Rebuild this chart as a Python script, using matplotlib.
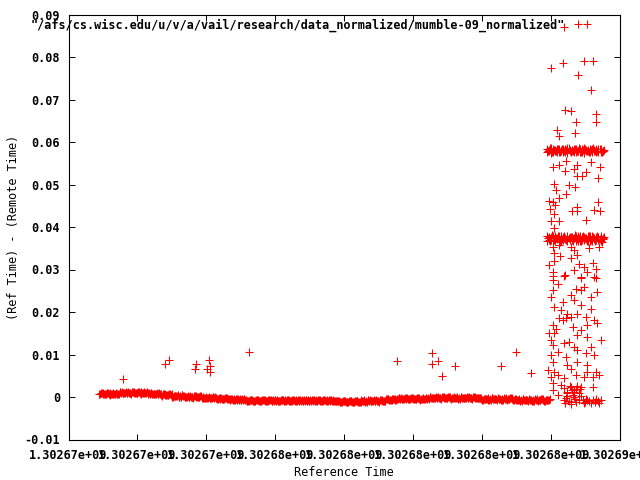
import numpy as np
import matplotlib
matplotlib.use('Agg')
import matplotlib.pyplot as plt
from matplotlib.ticker import FuncFormatter, MultipleLocator

T0 = 1302670000  # left end of the time axis (s)
T_SPAN = 16000
title = '"/afs/cs.wisc.edu/u/v/a/vail/research/data_normalized/mumble-09_normalized"'

# steady part before the burst: time offset from T0 (s), delay (units of 1e-4 s)
base_t = [900, 990, 1080, 1170, 1260, 1350, 1440, 1530, 1620, 1710,
          1800, 1890, 1980, 2070, 2160, 2250, 2340, 2430, 2520, 2610,
          2700, 2790, 2880, 2970, 3060, 3150, 3240, 3330, 3420, 3510,
          3600, 3690, 3780, 3870, 3960, 4050, 4140, 4230, 4320, 4410,
          4500, 4590, 4680, 4770, 4860, 4950, 5040, 5130, 5220, 5310,
          5400, 5490, 5580, 5670, 5760, 5850, 5940, 6030, 6120, 6210,
          6300, 6390, 6480, 6570, 6660, 6750, 6840, 6930, 7020, 7110,
          7200, 7290, 7380, 7470, 7560, 7650, 7740, 7830, 7920, 8010,
          8100, 8190, 8280, 8370, 8460, 8550, 8640, 8730, 8820, 8910,
          9000, 9090, 9180, 9270, 9360, 9450, 9540, 9630, 9720, 9810,
          9900, 9990, 10080, 10170, 10260, 10350, 10440, 10530, 10620, 10710,
          10800, 10890, 10980, 11070, 11160, 11250, 11340, 11430, 11520, 11610,
          11700, 11790, 11880, 11970, 12060, 12150, 12240, 12330, 12420, 12510,
          12600, 12690, 12780, 12870, 12960, 13050, 13140, 13230, 13320, 13410,
          13500, 13590, 13680, 13770, 13860, 13950]
base_d = [7.7, 7.2, 8.1, 7.6, 8.0, 7.4, 7.9, 9.9, 10.3, 9.6,
          10.2, 9.7, 10.1, 9.8, 10.3, 9.6, 9.9, 7.6, 7.2, 7.8,
          5.4, 5.0, 5.3, 4.9, 2.5, 2.0, 2.4, 2.1, 0.7, 0.3,
          0.6, 0.2, 0.7, -1.4, -1.8, -1.5, -1.9, -1.4, -3.8, -4.2,
          -3.9, -4.3, -5.7, -6.1, -5.8, -6.2, -5.7, -8.0, -8.4, -8.1,
          -8.4, -7.9, -8.3, -8.0, -8.5, -8.1, -7.8, -8.3, -8.6, -8.0,
          -8.2, -8.5, -7.9, -8.4, -8.1, -8.6, -8.0, -8.3, -7.9, -8.5,
          -8.1, -8.4, -8.0, -8.6, -8.2, -8.3, -8.5, -10.4, -10.8, -10.5,
          -10.9, -10.3, -10.7, -10.5, -10.8, -8.7, -9.1, -8.8, -9.0, -8.6,
          -9.0, -8.8, -9.1, -5.8, -6.1, -5.7, -4.1, -3.8, -4.2, -3.9,
          -4.1, -3.8, -4.2, -3.9, -4.0, -3.8, -1.8, -2.1, -1.7, -2.0,
          -1.9, -1.6, -2.1, -1.8, -2.0, -1.7, -2.2, -1.9, -1.6, -2.0,
          -1.8, -2.1, -1.9, -4.6, -4.9, -4.5, -4.8, -4.6, -4.9, -4.5,
          -4.8, -4.6, -4.9, -4.5, -4.7, -7.1, -6.8, -7.2, -6.9, -7.1,
          -6.8, -7.2, -6.9, -7.1, -7.0, -6.8]
base_t2 = [945, 1035, 1125, 1215, 1305, 1395, 1485, 1575, 1665, 1755,
           1845, 1935, 2025, 2115, 2205, 2295, 2385, 2475, 2565, 2655,
           2745, 2835, 2925, 3015, 3105, 3195, 3285, 3375, 3465, 3555,
           3645, 3735, 3825, 3915, 4005, 4095, 4185, 4275, 4365, 4455,
           4545, 4635, 4725, 4815, 4905, 4995, 5085, 5175, 5265, 5355,
           5445, 5535, 5625, 5715, 5805, 5895, 5985, 6075, 6165, 6255,
           6345, 6435, 6525, 6615, 6705, 6795, 6885, 6975, 7065, 7155,
           7245, 7335, 7425, 7515, 7605, 7695, 7785, 7875, 7965, 8055,
           8145, 8235, 8325, 8415, 8505, 8595, 8685, 8775, 8865, 8955,
           9045, 9135, 9225, 9315, 9405, 9495, 9585, 9675, 9765, 9855,
           9945, 10035, 10125, 10215, 10305, 10395, 10485, 10575, 10665, 10755,
           10845, 10935, 11025, 11115, 11205, 11295, 11385, 11475, 11565, 11655,
           11745, 11835, 11925, 12015, 12105, 12195, 12285, 12375, 12465, 12555,
           12645, 12735, 12825, 12915, 13005, 13095, 13185, 13275, 13365, 13455,
           13545, 13635, 13725, 13815, 13905]
base_d2 = [9.5, 6.1, 8.9, 5.8, 8.5, 6.5, 11.5, 9.1, 11.8, 8.5,
           11.7, 8.3, 11.1, 8.0, 10.7, 8.7, 9.1, 6.7, 9.4, 6.1,
           7.0, 3.6, 6.4, 0.4, 3.1, 1.1, 3.9, -0.3, 2.4, -0.9,
           2.3, -1.1, 1.7, -3.5, -0.8, -2.8, 0.0, -2.4, -2.1, -5.4,
           -2.2, -5.6, -4.7, -7.8, -5.1, -7.1, -4.3, -9.0, -6.3, -9.6,
           -6.4, -9.8, -7.0, -10.1, -7.4, -9.4, -6.6, -9.0, -6.3, -9.6,
           -6.4, -9.8, -7.0, -10.1, -7.4, -9.4, -6.6, -9.0, -6.3, -9.6,
           -6.4, -9.8, -7.0, -10.1, -7.4, -9.4, -9.0, -11.4, -8.7, -12.0,
           -8.8, -12.2, -9.4, -12.5, -8.1, -10.1, -7.3, -9.7, -7.0, -10.3,
           -7.1, -10.5, -4.7, -7.8, -5.1, -7.1, -2.4, -4.8, -2.1, -5.4,
           -2.2, -5.6, -2.8, -5.9, -3.2, -3.1, 0.3, -2.7, 0.0, -3.3,
           -0.1, -3.5, -0.7, -3.8, -1.1, -3.1, -0.3, -2.7, 0.0, -3.3,
           -0.1, -3.5, -3.5, -6.6, -3.9, -5.9, -3.1, -5.5, -2.8, -6.1,
           -2.9, -6.3, -3.5, -6.6, -6.2, -8.2, -5.4, -7.8, -5.1, -8.4,
           -5.2, -8.6, -5.8, -8.9, -6.2]
base_t3 = [922, 1012, 1102, 1192, 1282, 1372, 1462, 1552, 1642, 1732,
           1822, 1912, 2002, 2092, 2182, 2272, 2362, 2452, 2542, 2632,
           2722, 2812, 2902, 2992, 3082, 3172, 3262, 3352, 3442, 3532,
           3622, 3712, 3802, 3892, 3982, 4072, 4162, 4252, 4342, 4432,
           4522, 4612, 4702, 4792, 4882, 4972, 5062, 5152, 5242, 5332,
           5422, 5512, 5602, 5692, 5782, 5872, 5962, 6052, 6142, 6232,
           6322, 6412, 6502, 6592, 6682, 6772, 6862, 6952, 7042, 7132,
           7222, 7312, 7402, 7492, 7582, 7672, 7762, 7852, 7942, 8032,
           8122, 8212, 8302, 8392, 8482, 8572, 8662, 8752, 8842, 8932,
           9022, 9112, 9202, 9292, 9382, 9472, 9562, 9652, 9742, 9832,
           9922, 10012, 10102, 10192, 10282, 10372, 10462, 10552, 10642, 10732,
           10822, 10912, 11002, 11092, 11182, 11272, 11362, 11452, 11542, 11632,
           11722, 11812, 11902, 11992, 12082, 12172, 12262, 12352, 12442, 12532,
           12622, 12712, 12802, 12892, 12982, 13072, 13162, 13252, 13342, 13432,
           13522, 13612, 13702, 13792, 13882, 13972]
base_d3 = [6.0, 9.2, 6.7, 9.6, 7.1, 9.0, 5.9, 10.6, 8.5, 11.0,
           8.2, 11.4, 8.9, 11.8, 9.3, 11.2, 8.1, 8.2, 6.1, 8.6,
           3.5, 6.7, 4.2, 7.1, 1.7, 3.6, 0.5, 3.0, -0.9, 1.6,
           -1.2, 2.0, -0.5, 0.3, -2.2, -0.3, -3.4, -0.9, -5.4, -2.9,
           -5.7, -2.5, -6.9, -4.0, -6.5, -4.6, -7.7, -7.5, -9.6, -7.1,
           -9.9, -6.7, -9.2, -6.3, -8.8, -6.9, -10.0, -7.5, -9.6, -7.1,
           -9.9, -6.7, -9.2, -6.3, -8.8, -6.9, -10.0, -7.5, -9.6, -7.1,
           -9.9, -6.7, -9.2, -6.3, -8.8, -6.9, -10.0, -9.9, -12.0, -9.5,
           -12.3, -9.1, -11.6, -8.7, -11.2, -7.6, -10.7, -8.2, -10.3, -7.8,
           -10.6, -7.4, -9.9, -4.0, -6.5, -4.6, -5.8, -3.3, -5.4, -2.9,
           -5.7, -2.5, -5.0, -2.1, -4.6, -2.7, -3.7, -1.2, -3.3, -0.8,
           -3.6, -0.4, -2.9, 0.0, -2.5, -0.6, -3.7, -1.2, -3.3, -0.8,
           -3.6, -0.4, -2.9, -2.8, -5.3, -3.4, -6.5, -4.0, -6.1, -3.6,
           -6.4, -3.2, -5.7, -2.8, -5.3, -5.7, -8.8, -6.3, -8.4, -5.9,
           -8.7, -5.5, -8.0, -5.1, -7.6, -5.7]
base_t4 = [967, 1057, 1147, 1237, 1327, 1417, 1507, 1597, 1687, 1777,
           1867, 1957, 2047, 2137, 2227, 2317, 2407, 2497, 2587, 2677,
           2767, 2857, 2947, 3037, 3127, 3217, 3307, 3397, 3487, 3577,
           3667, 3757, 3847, 3937, 4027, 4117, 4207, 4297, 4387, 4477,
           4567, 4657, 4747, 4837, 4927, 5017, 5107, 5197, 5287, 5377,
           5467, 5557, 5647, 5737, 5827, 5917, 6007, 6097, 6187, 6277,
           6367, 6457, 6547, 6637, 6727, 6817, 6907, 6997, 7087, 7177,
           7267, 7357, 7447, 7537, 7627, 7717, 7807, 7897, 7987, 8077,
           8167, 8257, 8347, 8437, 8527, 8617, 8707, 8797, 8887, 8977,
           9067, 9157, 9247, 9337, 9427, 9517, 9607, 9697, 9787, 9877,
           9967, 10057, 10147, 10237, 10327, 10417, 10507, 10597, 10687, 10777,
           10867, 10957, 11047, 11137, 11227, 11317, 11407, 11497, 11587, 11677,
           11767, 11857, 11947, 12037, 12127, 12217, 12307, 12397, 12487, 12577,
           12667, 12757, 12847, 12937, 13027, 13117, 13207, 13297, 13387, 13477,
           13567, 13657, 13747, 13837, 13927]
base_d4 = [8.6, 7.2, 9.4, 6.4, 8.0, 5.9, 11.3, 9.7, 10.5, 8.3,
           10.8, 9.4, 11.6, 8.6, 10.2, 8.1, 8.9, 7.3, 8.1, 5.9,
           6.1, 4.7, 6.9, 1.0, 2.6, 0.5, 3.7, 0.3, 1.1, -1.1,
           1.4, 0.0, 2.2, -2.9, -1.3, -3.4, -0.2, -1.8, -3.4, -5.6,
           -3.1, -4.5, -4.2, -7.2, -5.6, -7.7, -4.5, -8.4, -7.6, -9.8,
           -7.3, -8.7, -6.5, -9.5, -7.9, -10.0, -6.8, -8.4, -7.6, -9.8,
           -7.3, -8.7, -6.5, -9.5, -7.9, -10.0, -6.8, -8.4, -7.6, -9.8,
           -7.3, -8.7, -6.5, -9.5, -7.9, -10.0, -9.2, -10.8, -10.0, -12.2,
           -9.7, -11.1, -8.9, -11.9, -8.6, -10.7, -7.5, -9.1, -8.3, -10.5,
           -8.0, -9.4, -4.2, -7.2, -5.6, -7.7, -2.6, -4.2, -3.4, -5.6,
           -3.1, -4.5, -2.3, -5.3, -3.7, -3.7, -0.5, -2.1, -1.3, -3.5,
           -1.0, -2.4, -0.2, -3.2, -1.6, -3.7, -0.5, -2.1, -1.3, -3.5,
           -1.0, -2.4, -3.0, -6.0, -4.4, -6.5, -3.3, -4.9, -4.1, -6.3,
           -3.8, -5.2, -3.0, -6.0, -6.7, -8.8, -5.6, -7.2, -6.4, -8.6,
           -6.1, -7.5, -5.3, -8.3, -6.7]

# the two plateaus inside the burst
burst_t = [13890, 13950, 14010, 14070, 14130, 14190, 14250, 14310, 14370, 14430,
           14490, 14550, 14610, 14670, 14730, 14790, 14850, 14910, 14970, 15030,
           15090, 15150, 15210, 15270, 15330, 15390, 15450, 15510]
burst_t2 = [13920, 13980, 14040, 14100, 14160, 14220, 14280, 14340, 14400, 14460,
            14520, 14580, 14640, 14700, 14760, 14820, 14880, 14940, 15000, 15060,
            15120, 15180, 15240, 15300, 15360, 15420, 15480, 15540]
high_d1 = [583, 578, 585, 577, 582, 576, 584, 579, 583, 577, 585, 578, 582, 576,
           584, 580, 583, 577, 585, 578, 582, 576, 584, 579, 583, 577, 584, 580]
high_d2 = [576, 582, 575, 583, 578, 584, 576, 581, 577, 583, 575, 582, 578, 584,
           576, 580, 577, 583, 575, 582, 578, 584, 576, 581, 577, 583, 576, 580]
high_d3 = [580, 585, 577, 582, 579, 584, 576, 583, 578, 581, 585, 577, 580, 583,
           578, 586, 576, 581, 584, 579, 577, 582, 585, 578, 580, 583, 576, 581]
mid_d1 = [379, 370, 377, 368, 380, 372, 378, 367, 376, 371, 379, 369, 377, 373,
          380, 368, 378, 370, 377, 372, 379, 367, 378, 371, 376, 369, 379, 372]
mid_d2 = [367, 376, 369, 378, 366, 374, 368, 379, 370, 375, 367, 377, 369, 374,
          366, 378, 368, 376, 369, 374, 367, 379, 368, 375, 370, 377, 367, 374]
mid_d3 = [373, 366, 381, 370, 375, 378, 365, 372, 380, 369, 374, 377, 366, 381,
          371, 375, 368, 379, 373, 366, 380, 370, 376, 368, 378, 372, 365, 377]

# scattered samples (outliers before the burst and the burst itself)
spread_t = [1570, 2790, 2930, 3680, 3710, 4030, 4090, 4100, 4120, 5250,
            9530, 10560, 10560, 10740, 10860, 11230, 12560, 13000, 13430,
            14380, 15050, 14010, 14350, 14970, 15230, 14790, 15170, 14420, 14590,
            15320, 14730, 15310, 14190, 14230, 14710,
            14060, 14230, 14450, 14690, 14760, 15170, 15430, 14420, 15020, 14780,
            14910, 15370, 14090, 14160, 14530, 14720, 14450, 14230, 13960, 14060,
            14130, 13990, 14760, 14620, 14780, 15250, 15430, 15370, 14090, 15020,
            14010, 14230, 14090,
            14060, 14250, 14590, 14670, 15120, 15410, 14090, 14280, 14590, 14760,
            14090, 13960, 14830, 14980, 15220, 15310, 14690, 14060, 15070, 14420,
            14880, 15270, 14060,
            14060, 14400, 14880, 15310, 14200, 14060, 14010, 14730, 14980, 14880,
            14590, 14690, 15170, 15360, 14350, 14110, 14300, 14880, 15170, 14490,
            14590, 14780, 15020, 14250, 14350, 14450, 15270, 15360, 15070, 14060,
            14160, 14640, 14880, 13960, 14110, 14780, 15070, 15460, 14010, 14060,
            14400, 14540, 14690, 14780, 15170, 15270, 14010, 14200, 14450, 15020,
            14780, 14060, 13920, 14110, 14490, 14590, 15070, 15070, 15310, 14010,
            14200, 14400, 14730, 14980, 15220, 15410, 14060, 14300, 14590, 14690,
            14880, 15220, 14060, 14200, 14490, 14690, 14830, 15070, 15310, 14980,
            14590, 14400, 15410,
            14380, 14470, 14550, 14640, 14730, 14810, 14450, 14520, 14610, 14700,
            14780, 14870, 14420, 14590, 14750, 14490, 14670, 14840,
            14930, 14990, 15040, 15100, 15160, 15220, 15280, 15330, 15390, 15450]
spread_d = [42, 77, 86, 66, 77, 66, 86, 59, 74, 105,
            84, 103, 77, 84, 49, 74, 72, 107, 56,
            871, 877, 775, 786, 790, 790, 758, 722, 676, 674,
            666, 648, 648, 628, 613, 622,
            541, 547, 556, 537, 547, 552, 542, 531, 529, 519,
            519, 516, 502, 487, 500, 495, 478, 469, 462, 458,
            451, 443, 447, 437, 437, 441, 437, 458, 431, 417,
            413, 415, 398,
            354, 357, 353, 347, 351, 353, 339, 331, 328, 333,
            320, 310, 312, 307, 315, 302, 300, 294, 294, 286,
            282, 282, 284,
            275, 284, 279, 281, 265, 251, 235, 253, 259, 251,
            239, 228, 235, 247, 224, 212, 204, 216, 208, 196,
            188, 196, 188, 185, 181, 186, 181, 173, 169, 169,
            161, 165, 157, 150, 150, 146, 142, 134, 134, 122,
            126, 130, 118, 110, 118, 99, 99, 106, 95, 103,
            83, 83, 63, 59, 75, 67, 75, 59, 59, 48,
            52, 44, 52, 48, 48, 52, 32, 28, 24, 16,
            24, 24, 16, 5, 9, 1, -7, -7, -7, -15,
            -11, -7, -15,
            21, 12, 26, 5, 19, 9, -2, -9, 16, -5,
            26, 2, -14, -16, -12, 2, 12, 19,
            -7, -12, -5, -9, -14, -7, -12, -5, -9, -7]

t_all = np.concatenate([base_t, base_t2, base_t3, base_t4,
                        burst_t, burst_t, burst_t2, burst_t, burst_t, burst_t2,
                        spread_t])
d_all = np.concatenate([base_d, base_d2, base_d3, base_d4,
                        high_d1, high_d2, high_d3, mid_d1, mid_d2, mid_d3,
                        spread_d])
x = T0 + t_all
y = d_all * 1e-4

plt.rcParams['font.family'] = 'DejaVu Sans Mono'
plt.rcParams['font.size'] = 8.5
plt.rcParams['font.weight'] = 'bold'

fig = plt.figure(figsize=(6.4, 4.8), dpi=100)
ax = fig.add_axes([68.5 / 640, 40.5 / 480, 551 / 640, 425 / 480])

ax.plot(x, y, linestyle='none', marker='+', color='#ff0000',
        markersize=5.3, markeredgewidth=0.75, antialiased=False, label=title)

ax.set_xlim(T0, T0 + T_SPAN)
ax.set_ylim(-0.01, 0.09)
ax.xaxis.set_major_locator(MultipleLocator(2000))
ax.yaxis.set_major_locator(MultipleLocator(0.01))
ax.xaxis.set_major_formatter(FuncFormatter(lambda v, p: '%g' % v))
ax.yaxis.set_major_formatter(FuncFormatter(lambda v, p: '%g' % round(v, 6)))
ax.tick_params(direction='in', length=4, width=0.7, top=True, right=True)
ax.tick_params(axis='x', pad=7)
ax.tick_params(axis='y', pad=6)
for s in ax.spines.values():
    s.set_linewidth(0.8)

ax.set_xlabel('Reference Time', va='center')
ax.xaxis.set_label_coords(0.5, -0.077)
ax.set_ylabel('(Ref Time) - (Remote Time)', va='center')
ax.yaxis.set_label_coords(-0.099, 0.5)

ax.legend(loc='upper right', bbox_to_anchor=(0.9356, 0.991), frameon=False,
          markerfirst=False, handlelength=1.0, handletextpad=0.6,
          borderpad=0, borderaxespad=0)

fig.savefig('out.png', dpi=100)
